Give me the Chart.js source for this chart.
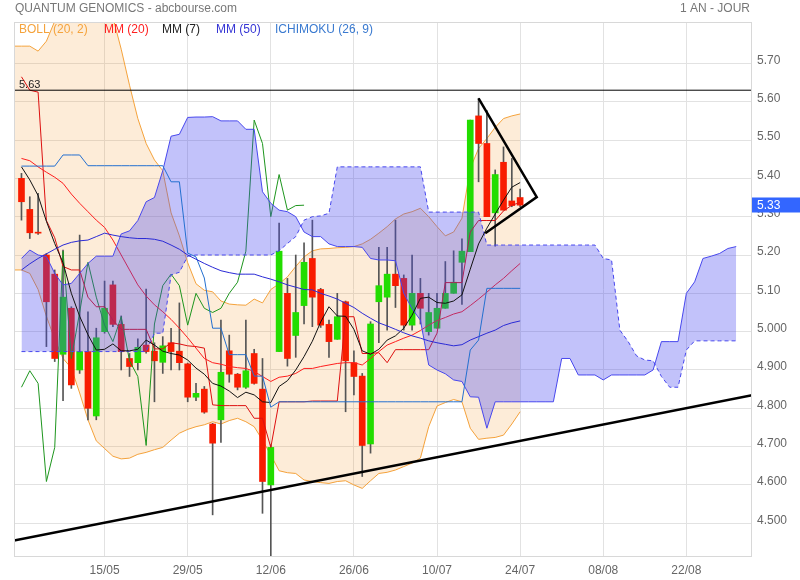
<!DOCTYPE html>
<html><head><meta charset="utf-8">
<script src="https://cdn.jsdelivr.net/npm/chart.js@4.4.0/dist/chart.umd.min.js"></script>
<style>html,body{margin:0;padding:0;background:#fff}canvas{display:block}</style>
</head><body>
<canvas id="c" width="800" height="580"></canvas>
<script>
// ---------- data ----------
const tickIdx = [10,20,30,40,50,60,70,80];
const tickLabels = ['15/05','29/05','12/06','26/06','10/07','24/07','08/08','22/08'];
const yTicks = [4.5,4.6,4.7,4.8,4.9,5.0,5.1,5.2,5.3,5.4,5.5,5.6,5.7];

const opens = [5.400,5.319,5.259,5.200,5.150,4.941,5.061,4.900,4.948,4.780,
 5.000,5.122,5.019,4.930,4.919,4.965,4.949,4.920,4.971,4.949,
 4.916,4.829,4.850,4.759,4.770,4.950,4.889,4.855,4.943,4.850,
 4.600,4.948,5.100,4.990,5.068,5.191,5.110,5.019,4.980,5.078,
 4.919,4.884,4.707,5.078,5.090,5.150,5.139,5.017,5.100,5.000,
 5.009,5.061,5.100,5.181,5.209,5.563,5.491,5.310,5.442,5.341,
 5.350];
const highs = [5.413,5.352,5.361,5.204,5.161,5.213,5.065,5.252,5.052,5.009,
 5.132,5.132,5.041,4.943,4.981,5.111,4.971,4.987,5.009,5.075,
 4.918,4.865,4.857,4.761,5.030,4.991,4.891,5.030,4.954,4.930,
 4.705,5.283,5.139,5.200,5.232,5.291,5.113,5.030,5.100,5.080,
 4.950,4.891,5.026,5.220,5.220,5.291,5.148,5.200,5.139,5.100,
 5.100,5.183,5.211,5.242,5.552,5.609,5.577,5.422,5.482,5.452,
 5.372];
const lows = [5.291,5.243,5.254,4.961,4.922,4.820,4.852,4.891,4.770,4.770,
 4.996,5.013,4.900,4.883,4.900,4.944,4.817,4.891,4.900,4.900,
 4.817,4.820,4.787,4.522,4.711,4.868,4.848,4.852,4.863,4.526,
 4.380,4.948,4.910,4.933,5.020,5.013,5.011,4.933,4.980,4.791,
 4.835,4.622,4.683,4.971,5.004,5.063,5.004,5.004,5.020,4.991,
 5.009,5.061,5.100,5.071,5.209,5.391,5.300,5.223,5.317,5.326,
 5.326];
const closes = [5.339,5.258,5.257,5.078,4.930,5.090,4.861,4.948,4.800,4.984,
 5.061,5.019,4.948,4.909,4.959,4.948,4.924,4.963,4.948,4.919,
 4.829,4.839,4.790,4.709,4.894,4.889,4.855,4.898,4.865,4.609,
 4.698,5.210,4.930,5.050,5.181,5.090,5.017,4.974,5.039,4.924,
 4.883,4.703,5.020,5.120,5.150,5.120,5.017,5.100,5.061,5.050,
 5.061,5.100,5.129,5.210,5.552,5.491,5.300,5.410,5.317,5.329,
 5.330];

const mm20 = [5.452,5.446,5.430,5.416,5.403,5.387,5.359,5.335,5.313,5.291,
 5.272,5.239,5.200,5.161,5.122,5.093,5.070,5.052,5.032,5.009,
 4.984,4.957,4.930,4.919,4.915,4.909,4.906,4.904,4.896,4.883,
 4.870,4.881,4.884,4.891,4.904,4.904,4.909,4.913,4.917,4.919,
 4.919,4.913,4.930,4.948,4.965,4.974,4.983,4.991,5.003,5.017,
 5.029,5.037,5.046,5.052,5.068,5.085,5.103,5.122,5.139,5.159,
 5.178];
const mm7 = [5.430,5.396,5.355,5.288,5.230,5.180,5.100,5.040,4.992,4.952,
 4.954,4.968,4.950,4.950,4.954,4.978,4.965,4.949,4.943,4.939,
 4.926,4.905,4.889,4.865,4.858,4.845,4.828,4.842,4.835,4.817,
 4.815,4.857,4.872,4.900,4.935,4.975,5.025,5.065,5.041,5.040,
 5.006,4.950,4.941,4.954,4.978,4.989,5.009,5.043,5.087,5.090,
 5.076,5.074,5.080,5.096,5.163,5.229,5.270,5.307,5.343,5.377,
 5.389];
const mm50 = [5.161,5.177,5.191,5.203,5.215,5.226,5.233,5.237,5.239,5.248,
 5.257,5.252,5.248,5.245,5.243,5.243,5.241,5.236,5.226,5.215,
 5.200,5.189,5.178,5.168,5.159,5.154,5.150,5.150,5.150,5.143,
 5.137,5.130,5.122,5.116,5.110,5.109,5.100,5.093,5.085,5.074,
 5.063,5.048,5.035,5.023,5.015,5.006,4.997,4.989,4.983,4.976,
 4.971,4.967,4.963,4.966,4.978,4.987,4.996,5.004,5.016,5.023,
 5.028];

const bollStart = -1;
const bollUpper = [5.745,5.745,5.745,5.732,5.758,5.810,5.850,5.870,5.880,5.880,5.870,
 5.850,5.820,5.737,5.643,5.556,5.491,5.448,5.420,5.310,5.250,
 5.180,5.125,5.108,5.104,5.080,5.072,5.070,5.069,5.085,5.075,
 5.110,5.125,5.143,5.170,5.195,5.211,5.216,5.217,5.219,5.220,
 5.222,5.229,5.241,5.257,5.274,5.294,5.307,5.313,5.322,5.300,
 5.274,5.250,5.260,5.296,5.426,5.478,5.504,5.533,5.556,5.563,
 5.568];
const bollLower = [5.161,5.161,5.152,5.110,5.040,4.980,4.930,4.905,4.840,4.770,4.715,
 4.695,4.675,4.668,4.670,4.680,4.685,4.692,4.698,4.717,4.735,
 4.745,4.752,4.757,4.765,4.759,4.768,4.774,4.765,4.752,4.717,
 4.678,4.637,4.632,4.630,4.613,4.609,4.606,4.604,4.609,4.611,
 4.600,4.591,4.611,4.630,4.633,4.639,4.648,4.657,4.670,4.752,
 4.806,4.815,4.823,4.817,4.748,4.719,4.722,4.724,4.730,4.759,
 4.791];

const tenkan = [5.665,5.630,5.625,5.290,5.245,5.170,5.161,5.161,5.090,5.065,
 5.065,5.030,5.006,5.006,5.006,5.006,4.955,4.955,4.971,4.968,
 4.963,4.961,4.957,4.809,4.807,4.807,4.807,4.807,4.774,4.774,
 4.698,4.817,4.817,4.817,4.817,4.819,4.819,4.819,4.819,5.039,
 5.039,4.943,4.943,4.945,4.919,4.953,4.953,4.953,4.953,4.953,
 4.996,5.128,5.128,5.128,5.260,5.290,5.290,5.290,5.315,5.330,
 5.337];
const kijun = [5.432,5.432,5.432,5.432,5.432,5.461,5.461,5.461,5.433,5.433,
 5.433,5.433,5.433,5.433,5.433,5.433,5.433,5.433,5.391,5.391,
 5.205,5.195,5.140,5.009,5.009,4.940,4.940,4.940,4.884,4.884,
 4.803,4.817,4.817,4.817,4.817,4.817,4.817,4.817,4.817,4.817,
 4.817,4.817,4.817,4.817,4.817,4.817,4.817,4.817,4.817,4.817,
 4.817,4.817,4.817,4.817,4.952,4.978,5.113,5.113,5.113,5.113,
 5.113];
const chikou = [4.855,4.898,4.865,4.609,4.698,5.210,4.930,5.050,5.181,5.090,
 5.017,4.974,5.039,4.924,4.883,4.703,5.020,5.120,5.150,5.120,
 5.017,5.100,5.061,5.050,5.061,5.100,5.129,5.210,5.552,5.491,
 5.300,5.410,5.317,5.329,5.330];
const senkouA = [5.191,5.213,5.200,5.196,5.152,5.122,5.126,5.152,5.178,5.197,
 5.197,5.197,5.255,5.263,5.290,5.339,5.350,5.420,5.510,5.515,
 5.559,5.560,5.560,5.561,5.550,5.550,5.550,5.528,5.528,5.365,
 5.335,5.317,5.313,5.300,5.260,5.248,5.248,5.229,5.222,5.222,
 5.222,5.220,5.191,5.187,5.187,5.185,5.100,5.060,5.030,4.913,
 4.900,4.890,4.874,4.870,4.830,4.829,4.748,4.817,4.817,4.817,
 4.817,4.817,4.817,4.817,4.817,4.930,4.930,4.887,4.887,4.887,
 4.874,4.887,4.887,4.887,4.887,4.887,4.900,4.974,4.974,4.974,
 5.100,5.130,5.191,5.197,5.204,5.217,5.222];
const senkouB = [4.948,4.948,4.948,4.948,4.948,4.948,4.948,4.948,4.948,4.948,
 4.948,4.948,4.948,4.948,4.948,4.948,4.996,4.996,5.148,5.155,
 5.197,5.200,5.200,5.200,5.200,5.200,5.200,5.200,5.200,5.200,
 5.200,5.211,5.230,5.248,5.291,5.300,5.302,5.309,5.430,5.430,
 5.430,5.430,5.430,5.430,5.430,5.430,5.430,5.430,5.430,5.312,
 5.312,5.312,5.312,5.312,5.312,5.312,5.226,5.226,5.226,5.226,
 5.226,5.226,5.226,5.226,5.226,5.226,5.226,5.226,5.226,5.226,
 5.191,5.187,5.004,4.974,4.937,4.926,4.924,4.883,4.855,4.855,
 4.952,4.976,4.976,4.976,4.976,4.976,4.976];

// drawn trend lines (index, price)
const supportLine = [[-0.9,4.455],[87.9,4.834]];
const triangleLine = [[55.8,5.257],[62.0,5.351],[55.0,5.609]];
const resistanceLevel = 5.63;

// ---------- build ----------
const FONT = "'Liberation Sans', Arial, sans-serif";
const RED = '#f81c00', GREEN = '#22dd00';
const pts = (arr, start=0) => arr.map((v,i)=>({x:i+start, y:v}));
const pairPts = arr => arr.map(p=>({x:p[0], y:p[1]}));
const line = (data, color, order, extra={}) => Object.assign({type:'line', data, borderColor:color, borderWidth:1, pointRadius:0, tension:0, fill:false, order}, extra);

const datasets = [
  line(pts(bollUpper,bollStart), '#f5a33c', 6, {fill:'+1', backgroundColor:'rgba(245,160,60,0.2)'}),
  line(pts(bollLower,bollStart), '#f5a33c', 6),
  {type:'bar', data: highs.map((h,i)=>({x:i, y:[lows[i], h]})), backgroundColor:'#555', barThickness:1, grouped:false, order:5},
  {type:'bar', data: opens.map((o,i)=>({x:i, y:[o, closes[i]]})), backgroundColor: opens.map((o,i)=> closes[i] >= o ? GREEN : RED), barThickness:6, minBarLength:1, grouped:false, order:4},
  line(pts(mm20), '#ff1e1e', 3),
  line(pts(tenkan), '#dd1010', 3),
  line(pts(chikou), '#1e961e', 3),
  line(pts(senkouA), '#4848ee', 2, {fill:'+1', backgroundColor:'rgba(70,70,240,0.33)'}),
  line(pts(senkouB), '#4848ee', 2, {borderDash:[4,3]}),
  line(pts(mm50), '#2a2ad6', 1),
  line(pts(kijun), '#2470d0', 1),
  line(pts(mm7), '#111111', 1),
  line(pairPts(supportLine), '#000', 0, {borderWidth:2.5}),
  line(pairPts(triangleLine), '#000', 0, {borderWidth:2.5}),
  line([{x:-0.9,y:resistanceLevel},{x:87.9,y:resistanceLevel}], '#000', 0, {borderWidth:1})
];

const deco = {
  id:'deco',
  beforeDraw(chart){
    const c = chart.ctx; c.save(); c.fillStyle='#fff'; c.fillRect(0,0,chart.width,chart.height); c.restore();
  },
  afterDraw(chart){
    const c = chart.ctx, a = chart.chartArea, y = chart.scales.y;
    c.save();
    c.strokeStyle = '#d8d8d8'; c.lineWidth = 1;
    c.strokeRect(a.left+0.5, a.top+0.5, a.right-a.left-1, a.bottom-a.top-1);
    c.textBaseline = 'middle';
    c.font = '12px ' + FONT;
    c.fillStyle = '#777'; c.textAlign='left';
    c.fillText('QUANTUM GENOMICS - abcbourse.com', 15, 9);
    c.textAlign='right';
    c.fillText('1 AN - JOUR', 750, 9);
    c.textAlign='left';
    const leg = [['BOLL (20, 2)','#f5a33c',19],['MM (20)','#ff2020',104],['MM (7)','#222',162],['MM (50)','#3535d5',216],['ICHIMOKU (26, 9)','#3a7ad0',275]];
    leg.forEach(l=>{ c.fillStyle=l[1]; c.fillText(l[0], l[2], 30); });
    // resistance label
    c.font = '11px ' + FONT; c.fillStyle='#222'; c.textBaseline='alphabetic';
    c.fillText(resistanceLevel.toFixed(2), a.left+5, y.getPixelForValue(resistanceLevel)-2);
    // last price tag
    const last = closes[closes.length-1];
    const yp = y.getPixelForValue(last);
    c.fillStyle = '#3366ff';
    c.fillRect(a.right, Math.round(yp)-7.5, chart.width-a.right, 15);
    c.fillStyle = '#fff'; c.font='12px ' + FONT; c.textBaseline='middle';
    c.fillText(last.toFixed(2), a.right+5, yp);
    c.restore();
  }
};

new Chart(document.getElementById('c'), {
  type:'line',
  data:{datasets},
  options:{
    responsive:false, animation:false, devicePixelRatio:1,
    layout:{padding:{top:22,left:14,right:0,bottom:0}},
    plugins:{legend:{display:false}, tooltip:{enabled:false}},
    scales:{
      x:{type:'linear', min:-0.9, max:87.9, offset:false,
        afterBuildTicks:s=>{s.ticks = tickIdx.map(v=>({value:v}));},
        afterFit:s=>{s.height=23;},
        grid:{color:'#e2e2e2', drawTicks:false, offset:false}, border:{display:false},
        ticks:{padding:6, color:'#666', autoSkip:false, maxRotation:0, font:{family:FONT, size:12},
          callback:v=>{const k=tickIdx.indexOf(v); return k<0?'':tickLabels[k];}}},
      y:{type:'linear', position:'right', min:4.412, max:5.808,
        afterBuildTicks:s=>{s.ticks = yTicks.map(v=>({value:v}));},
        afterFit:s=>{s.width=48;},
        grid:{color:'#e2e2e2', drawTicks:false}, border:{display:false},
        ticks:{padding:5, labelOffset:-3, color:'#666', font:{family:FONT, size:12},
          callback:v=> v>=5.05 ? v.toFixed(2) : v.toFixed(3)}}
    }
  },
  plugins:[deco]
});
</script>
</body></html>
